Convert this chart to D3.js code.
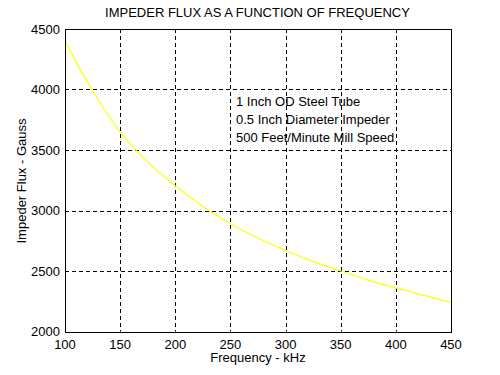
<!DOCTYPE html>
<html>
<head>
<meta charset="utf-8">
<script src="https://cdn.jsdelivr.net/npm/d3@7"></script>
<style>
  body { margin: 0; background: #fff; }
  text { font-family: Arial, "Liberation Sans", sans-serif; font-size: 13px; fill: #000; }
</style>
</head>
<body>
<script>
// values
var freq = [100, 125, 150, 175, 200, 225, 250, 275, 300, 325, 350, 375, 400, 425, 450];
var flux = [4400, 3990, 3650, 3400, 3205, 3035, 2890, 2770, 2670, 2580, 2500, 2425, 2360, 2300, 2240];
var xTicks = [100, 150, 200, 250, 300, 350, 400, 450];
var yTicks = [2000, 2500, 3000, 3500, 4000, 4500];
var notes = ["1 Inch OD Steel Tube", "0.5 Inch Diameter Impeder", "500 Feet/Minute Mill Speed"];

var width = 500,
    height = 375,
    margin = {top: 29, right: 49, bottom: 43.5, left: 65};

var x = d3.scaleLinear().domain([100, 450]).range([margin.left, width - margin.right]);
var y = d3.scaleLinear().domain([2000, 4500]).range([height - margin.bottom, margin.top]);

var svg = d3.select("body").append("svg")
    .attr("width", width)
    .attr("height", height);

// grid
svg.append("g")
  .selectAll("line")
  .data(xTicks.slice(1, -1))
  .enter().append("line")
    .attr("x1", d => Math.round(x(d)) + 0.5)
    .attr("x2", d => Math.round(x(d)) + 0.5)
    .attr("y1", y(4500))
    .attr("y2", y(2000))
    .attr("stroke", "#000")
    .attr("stroke-dasharray", "4,3");

svg.append("g")
  .selectAll("line")
  .data(yTicks.slice(1, -1))
  .enter().append("line")
    .attr("x1", x(100))
    .attr("x2", x(450))
    .attr("y1", d => Math.round(y(d)) + 0.5)
    .attr("y2", d => Math.round(y(d)) + 0.5)
    .attr("stroke", "#000")
    .attr("stroke-dasharray", "4,3");

// curve
var line = d3.line()
    .x(d => x(d[0]))
    .y(d => y(d[1]))
    .curve(d3.curveMonotoneX);

svg.append("path")
    .datum(d3.zip(freq, flux))
    .attr("d", line)
    .attr("fill", "none")
    .attr("stroke", "#ffff00")
    .attr("stroke-width", 1.2);

// box
svg.append("rect")
    .attr("x", Math.round(x(100)) + 0.5)
    .attr("y", Math.round(y(4500)) + 0.5)
    .attr("width", Math.round(x(450)) - Math.round(x(100)))
    .attr("height", Math.round(y(2000)) - Math.round(y(4500)))
    .attr("fill", "none")
    .attr("stroke", "#000");

// tick labels
svg.append("g")
  .selectAll("text")
  .data(xTicks)
  .enter().append("text")
    .attr("x", d => x(d))
    .attr("y", y(2000) + 17)
    .attr("text-anchor", "middle")
    .text(d => d);

svg.append("g")
  .selectAll("text")
  .data(yTicks)
  .enter().append("text")
    .attr("x", margin.left - 5)
    .attr("y", d => y(d) + 4.5)
    .attr("text-anchor", "end")
    .text(d => d);

// titles
svg.append("text")
    .attr("x", 257.5)
    .attr("y", 17)
    .attr("text-anchor", "middle")
    .text("IMPEDER FLUX AS A FUNCTION OF FREQUENCY");

svg.append("text")
    .attr("x", 258)
    .attr("y", 362)
    .attr("text-anchor", "middle")
    .text("Frequency - kHz");

svg.append("text")
    .attr("transform", "translate(26,181) rotate(-90)")
    .attr("text-anchor", "middle")
    .text("Impeder Flux - Gauss");

svg.append("g")
  .selectAll("text")
  .data(notes)
  .enter().append("text")
    .attr("x", 236)
    .attr("y", (d, i) => 105.5 + i * 18)
    .text(d => d);
</script>
</body>
</html>
